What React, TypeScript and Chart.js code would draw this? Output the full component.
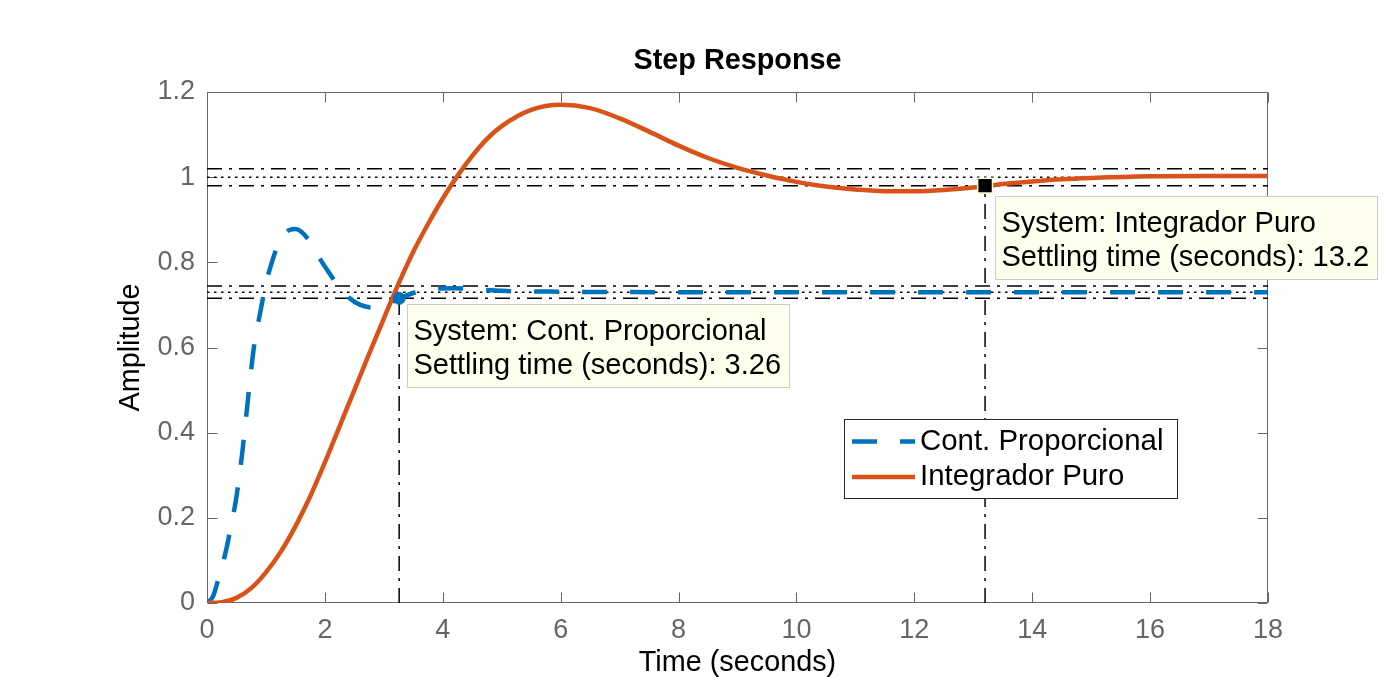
import React, { useEffect, useRef } from 'react';
import { Chart, registerables } from 'chart.js';

Chart.register(...registerables);

const FONT = '"Liberation Sans", Arial, Helvetica, sans-serif';
const BLUE = '#0072BD';
const ORANGE = '#D95319';
const AXIS = '#666666';

// ---- data ----
const blueTime = [0, 0.1, 0.2, 0.3, 0.4, 0.5, 0.6, 0.7, 0.8, 0.9, 1.0, 1.1, 1.2, 1.3, 1.4, 1.5, 1.6, 1.7, 1.8, 1.9, 2.0, 2.2, 2.4, 2.6, 2.8, 3.0, 3.26, 3.5, 3.8, 4.2, 4.6, 5.0, 6, 8, 10, 12, 14, 16, 18];
const blueAmp = [0, 0.015, 0.06, 0.11, 0.175, 0.25, 0.355, 0.485, 0.605, 0.68, 0.75, 0.8, 0.84, 0.865, 0.876, 0.878, 0.872, 0.857, 0.835, 0.812, 0.79, 0.75, 0.718, 0.7, 0.694, 0.698, 0.7154, 0.728, 0.738, 0.739, 0.736, 0.733, 0.731, 0.73, 0.73, 0.73, 0.73, 0.73, 0.73];

const orangeTime = [0, 0.25, 0.5, 0.75, 1.0, 1.25, 1.5, 1.75, 2.0, 2.25, 2.5, 2.75, 3.0, 3.25, 3.5, 3.75, 4.0, 4.25, 4.5, 4.75, 5.0, 5.5, 6.0, 6.5, 7.0, 7.5, 8.0, 8.5, 9.0, 9.5, 10.0, 10.5, 11.0, 11.5, 12.0, 12.5, 13.0, 13.5, 14.0, 14.5, 15.0, 16.0, 17.0, 18.0];
const orangeAmp = [0, 0.002, 0.012, 0.035, 0.072, 0.12, 0.18, 0.25, 0.33, 0.415, 0.5, 0.585, 0.668, 0.75, 0.825, 0.89, 0.95, 1.003, 1.05, 1.09, 1.12, 1.158, 1.17, 1.162, 1.138, 1.107, 1.074, 1.045, 1.022, 1.004, 0.989, 0.978, 0.971, 0.967, 0.967, 0.97, 0.976, 0.984, 0.99, 0.995, 0.998, 1.002, 1.003, 1.003];

const systemNames = ['Cont. Proporcional', 'Integrador Puro'];
const settlingTimes = [3.26, 13.2];
const settlingAmps = [0.7154, 0.98];
const settlingLabels = ['3.26', '13.2'];
const bandLevels = [
  [0.7446, 0.73, 0.7154],
  [1.02, 1.0, 0.98],
];

const xTicks = [0, 2, 4, 6, 8, 10, 12, 14, 16, 18];
const xTickLabels = ['0', '2', '4', '6', '8', '10', '12', '14', '16', '18'];
const yTicks = [0, 0.2, 0.4, 0.6, 0.8, 1.0, 1.2];
const yTickLabels = ['0', '0.2', '0.4', '0.6', '0.8', '1', '1.2'];
const xRange = [0, 18];
const yRange = [0, 1.2];

const DASH_DOT = [15, 7, 3, 7];
const DOTTED = [2.5, 4.5];
const CURVE_DASH = [25, 23];

const framePlugin = {
  id: 'matlabFrame',
  beforeDatasetsDraw(chart: any) {
    const { ctx, chartArea: a, scales } = chart;
    const L = Math.round(a.left) + 0.5;
    const R = Math.round(a.right) - 0.5;
    const T = Math.round(a.top) + 0.5;
    const B = Math.round(a.bottom) - 0.5;
    const TL = 10;
    ctx.save();
    ctx.strokeStyle = AXIS;
    ctx.lineWidth = 1;
    ctx.beginPath();
    xTicks.forEach((v) => {
      const px = Math.round(scales.x.getPixelForValue(v)) + 0.5;
      ctx.moveTo(px, B);
      ctx.lineTo(px, B - TL);
      ctx.moveTo(px, T);
      ctx.lineTo(px, T + TL);
    });
    yTicks.forEach((v) => {
      const py = Math.round(scales.y.getPixelForValue(v)) + 0.5;
      ctx.moveTo(L, py);
      ctx.lineTo(L + TL, py);
      ctx.moveTo(R, py);
      ctx.lineTo(R - TL, py);
    });
    ctx.stroke();
    ctx.strokeRect(L, T, R - L, B - T);
    ctx.restore();
  },
};

const overlayPlugin = {
  id: 'matlabOverlay',
  afterDraw(chart: any) {
    const { ctx, chartArea: a, scales } = chart;
    ctx.save();

    // legend
    const lx = a.right - 424;
    const ly = a.top + 327;
    const lw = 333;
    const lh = 79;
    ctx.fillStyle = '#ffffff';
    ctx.fillRect(lx, ly, lw, lh);
    ctx.strokeStyle = '#262626';
    ctx.lineWidth = 1;
    ctx.setLineDash([]);
    ctx.strokeRect(Math.round(lx) + 0.5, Math.round(ly) + 0.5, lw, lh);
    const curveSets = chart.data.datasets.filter((d: any) => d.isCurve);
    curveSets.forEach((ds: any, i: number) => {
      const cy = ly + 22.5 + i * 35.5;
      ctx.beginPath();
      ctx.strokeStyle = ds.borderColor;
      ctx.lineWidth = ds.borderWidth;
      ctx.lineCap = 'butt';
      ctx.setLineDash(ds.borderDash || []);
      ctx.moveTo(lx + 8, cy);
      ctx.lineTo(lx + 71, cy);
      ctx.stroke();
      ctx.setLineDash([]);
      ctx.fillStyle = '#000';
      ctx.font = `29.4px ${FONT}`;
      ctx.textAlign = 'left';
      ctx.textBaseline = 'middle';
      ctx.fillText(ds.label, lx + 76, cy);
    });

    // data tips
    const offsets = [[8, 6], [10, 10]];
    settlingTimes.forEach((t, i) => {
      const mx = scales.x.getPixelForValue(t);
      const my = scales.y.getPixelForValue(settlingAmps[i]);
      const lines = [`System: ${systemNames[i]}`, `Settling time (seconds): ${settlingLabels[i]}`];
      ctx.font = `29px ${FONT}`;
      const tw = Math.max(...lines.map((l) => ctx.measureText(l).width));
      const bx = Math.round(mx + offsets[i][0]) + 0.5;
      const by = Math.round(my + offsets[i][1]) + 0.5;
      const bw = Math.round(tw + 14);
      const bh = 83;
      ctx.fillStyle = '#ffffee';
      ctx.fillRect(bx, by, bw, bh);
      ctx.strokeStyle = '#cccccc';
      ctx.lineWidth = 1;
      ctx.strokeRect(bx, by, bw, bh);
      ctx.fillStyle = '#000';
      ctx.textAlign = 'left';
      ctx.textBaseline = 'alphabetic';
      ctx.fillText(lines[0], bx + 6, by + 35);
      ctx.fillText(lines[1], bx + 6, by + 69);
    });
    ctx.restore();
  },
};

export default function App() {
  const ref = useRef<HTMLCanvasElement | null>(null);

  useEffect(() => {
    if (!ref.current) return;
    const datasets: any[] = [];
    bandLevels.forEach((levels) =>
      levels.forEach((lv, k) =>
        datasets.push({
          label: 'band',
          data: [{ x: xRange[0], y: lv }, { x: xRange[1], y: lv }],
          borderColor: '#000',
          borderWidth: 1.5,
          borderDash: k === 1 ? DOTTED : DASH_DOT,
          pointRadius: 0,
          order: 10,
        })
      )
    );
    settlingTimes.forEach((t, i) =>
      datasets.push({
        label: 'settle',
        data: [{ x: t, y: yRange[0] }, { x: t, y: settlingAmps[i] }],
        borderColor: '#000',
        borderWidth: 1.5,
        borderDash: DASH_DOT,
        pointRadius: 0,
        order: 10,
      })
    );
    datasets.push({
      label: systemNames[0],
      isCurve: true,
      data: blueTime.map((t, i) => ({ x: t, y: blueAmp[i] })),
      borderColor: BLUE,
      borderWidth: 4.5,
      borderDash: CURVE_DASH,
      borderCapStyle: 'butt',
      cubicInterpolationMode: 'monotone',
      pointRadius: 0,
      order: 3,
    });
    datasets.push({
      label: systemNames[1],
      isCurve: true,
      data: orangeTime.map((t, i) => ({ x: t, y: orangeAmp[i] })),
      borderColor: ORANGE,
      borderWidth: 4.5,
      cubicInterpolationMode: 'monotone',
      pointRadius: 0,
      order: 2,
    });
    datasets.push({
      label: 'marker1',
      data: [{ x: settlingTimes[0], y: settlingAmps[0] }],
      showLine: false,
      pointStyle: 'circle',
      pointRadius: 6,
      pointBackgroundColor: BLUE,
      pointBorderColor: BLUE,
      pointBorderWidth: 1,
      order: 1,
    });
    datasets.push({
      label: 'marker2',
      data: [{ x: settlingTimes[1], y: settlingAmps[1] }],
      showLine: false,
      pointStyle: 'rect',
      pointRadius: 10.5,
      pointBackgroundColor: '#000',
      pointBorderColor: '#ffffcc',
      pointBorderWidth: 1.5,
      order: 0,
    });

    const chart = new Chart(ref.current, {
      type: 'line',
      data: { datasets },
      plugins: [framePlugin, overlayPlugin],
      options: {
        responsive: false,
        animation: false,
        devicePixelRatio: 1,
        events: [],
        layout: { padding: { left: 0, right: 132, top: 0, bottom: 0 }, autoPadding: false },
        plugins: {
          legend: { display: false },
          tooltip: { enabled: false },
          title: {
            display: true,
            text: 'Step Response',
            fullSize: false,
            color: '#000',
            font: { family: FONT, size: 28.8, weight: 'bold', lineHeight: 1 },
            padding: { top: 46.5, bottom: 16.7 },
          },
        },
        scales: {
          x: {
            type: 'linear',
            min: xRange[0],
            max: xRange[1],
            afterFit: (s: any) => {
              s.height = 74;
            },
            afterBuildTicks: (s: any) => {
              s.ticks = xTicks.map((v) => ({ value: v }));
            },
            grid: { display: false, drawTicks: false },
            border: { display: false },
            ticks: {
              padding: 11.5,
              color: AXIS,
              font: { family: FONT, size: 27 },
              maxRotation: 0,
              callback: (_v: any, i: number) => xTickLabels[i],
            },
            title: {
              display: true,
              text: 'Time (seconds)',
              color: '#000',
              font: { family: FONT, size: 28.8, lineHeight: 1 },
              padding: { top: 0, bottom: 0 },
            },
          },
          y: {
            type: 'linear',
            min: yRange[0],
            max: yRange[1],
            afterFit: (s: any) => {
              s.width = 207;
            },
            afterBuildTicks: (s: any) => {
              s.ticks = yTicks.map((v) => ({ value: v }));
            },
            grid: { display: false, drawTicks: false },
            border: { display: false },
            ticks: {
              padding: 12,
              color: AXIS,
              font: { family: FONT, size: 27 },
              callback: (_v: any, i: number) => yTickLabels[i],
            },
            title: {
              display: true,
              text: 'Amplitude',
              color: '#000',
              font: { family: FONT, size: 28.8, lineHeight: 1 },
              padding: { top: 117, bottom: 0 },
            },
          },
        },
      } as any,
    });
    return () => chart.destroy();
  }, []);

  return (
    <div style={{ position: 'fixed', left: 0, top: 0, width: 1400, height: 677, background: '#fff' }}>
      <canvas ref={ref} width={1400} height={677} style={{ display: 'block' }} />
    </div>
  );
}
